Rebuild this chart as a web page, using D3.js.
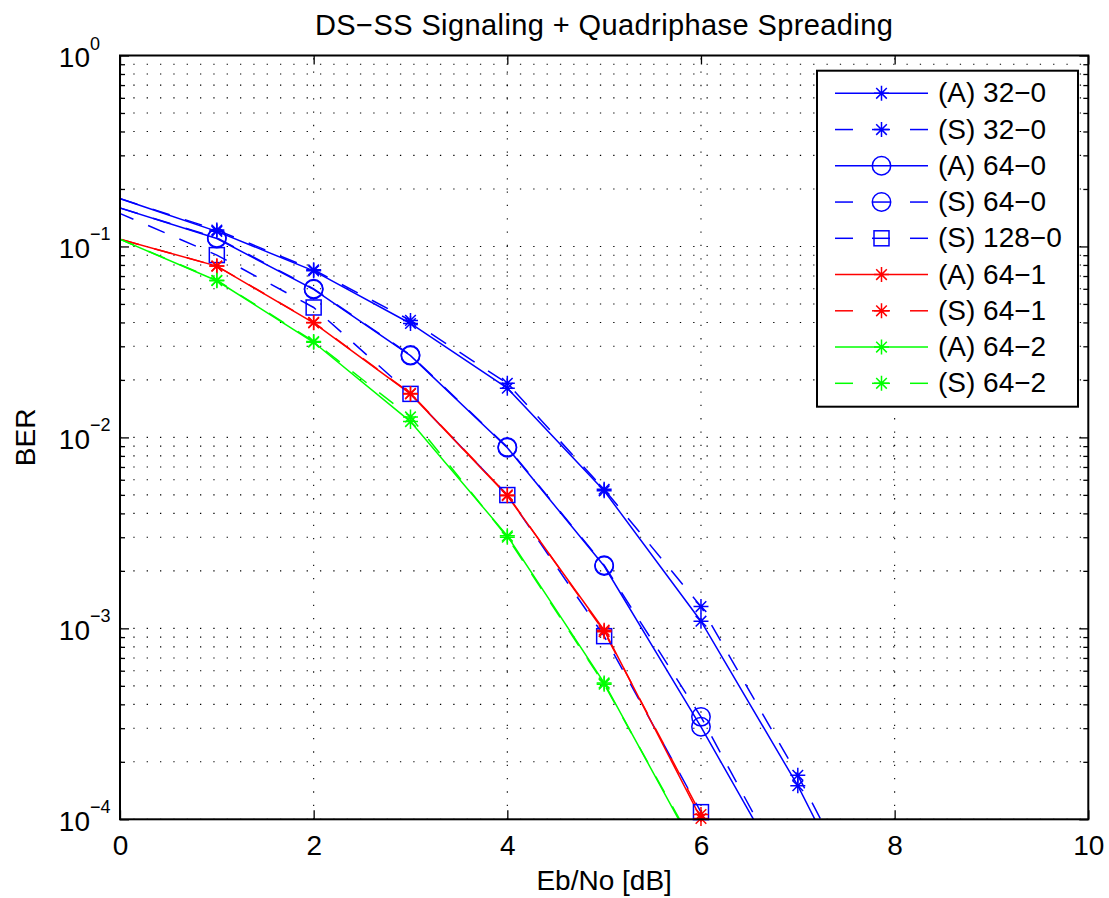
<!DOCTYPE html>
<html>
<head>
<meta charset="utf-8">
<script src="https://cdn.jsdelivr.net/npm/d3@7"></script>
<style>
  body { margin: 0; background: #fff; }
  svg { display: block; font-family: "Liberation Sans", Arial, Helvetica, sans-serif; }
</style>
</head>
<body>
<div id="chart"></div>
<script>
/* BER vs Eb/No — DS-SS signaling with quadriphase spreading */

// ---- Data (the -1 dB point sits outside the axes,
//      so the curves enter at 0 dB without a marker) ----
const ebno = [-1, 1, 2, 3, 4, 5, 6, 7, 8];

const a32_0  = [0.264, 0.120, 0.0745, 0.0395, 0.0181, 0.00525, 0.00109, 0.000150, 0.000015];
const s32_0  = [0.260, 0.122, 0.0755, 0.0410, 0.0192, 0.00535, 0.00130, 0.000170, 0.000018];
const a64_0  = [0.230, 0.110, 0.0596, 0.0268, 0.00883, 0.00212, 0.000305, 0.000039, null];
const s64_0  = [0.228, 0.111, 0.0600, 0.0270, 0.00890, 0.00214, 0.000344, 0.000040, null];
const s128_0 = [0.246, 0.0901, 0.0479, 0.0169, 0.00499, 0.00091, 0.000109, 0.000011, null];
const a64_1  = [0.151, 0.0789, 0.0398, 0.0169, 0.00495, 0.000978, 0.000101, 0.000009, null];
const s64_1  = [0.151, 0.0789, 0.0400, 0.0170, 0.00500, 0.000960, 0.000106, 0.000010, null];
const a64_2  = [0.180, 0.0661, 0.0315, 0.0121, 0.00305, 0.000518, 0.000061, null, null];
const s64_2  = [0.179, 0.0665, 0.0318, 0.0128, 0.00300, 0.000510, 0.000063, null, null];

const seriesNames = ['(A) 32−0', '(S) 32−0', '(A) 64−0', '(S) 64−0', '(S) 128−0',
                     '(A) 64−1', '(S) 64−1', '(A) 64−2', '(S) 64−2'];
const seriesValues = [a32_0, s32_0, a64_0, s64_0, s128_0, a64_1, s64_1, a64_2, s64_2];

const xTicks = [0, 2, 4, 6, 8, 10];
const yDecades = [1e-4, 1e-3, 1e-2, 1e-1, 1];
const yExponents = ['−4', '−3', '−2', '−1', '0'];

// ---- Styles per series ----
const BLUE = '#0000ff', RED = '#ff0000', GREEN = '#00ff00';
const styles = [
  { color: BLUE,  dashed: false, marker: 'star' },
  { color: BLUE,  dashed: true,  marker: 'star' },
  { color: BLUE,  dashed: false, marker: 'circle' },
  { color: BLUE,  dashed: true,  marker: 'circle' },
  { color: BLUE,  dashed: true,  marker: 'square' },
  { color: RED,   dashed: false, marker: 'star' },
  { color: RED,   dashed: true,  marker: 'star' },
  { color: GREEN, dashed: false, marker: 'star' },
  { color: GREEN, dashed: true,  marker: 'star' }
];
const series = seriesNames.map((name, i) => ({
  name,
  ...styles[i],
  points: ebno.map((e, j) => [e, seriesValues[i][j]])
}));

// ---- Layout ----
const width = 1109, height = 898;
const L = 120, R = 1088.3, T = 55.5, B = 819.3;
const FONT = 28;

const svg = d3.select('#chart').append('svg')
  .attr('width', width).attr('height', height);
svg.append('rect').attr('width', width).attr('height', height).attr('fill', '#fff');

const x = d3.scaleLinear().domain([0, 10]).range([L, R]);
const y = d3.scaleLog().domain([1e-4, 1]).range([B, T]);

// ---- Grid (dotted, MATLAB style) ----
const grid = svg.append('g')
  .attr('stroke', '#000').attr('stroke-width', 1.1)
  .attr('stroke-dasharray', '1.3,12.03').attr('fill', 'none');

grid.selectAll('line.h').data(y.ticks()).join('line')
  .attr('class', 'h')
  .attr('x1', L).attr('x2', R)
  .attr('y1', d => y(d)).attr('y2', d => y(d));

grid.selectAll('line.v').data(xTicks.slice(1, -1)).join('line')
  .attr('class', 'v')
  .attr('x1', d => x(d)).attr('x2', d => x(d))
  .attr('y1', B).attr('y2', T);

// ---- Axes (ticks inside) ----
function styleAxis(g) {
  g.attr('font-family', null).attr('font-size', null);
  g.select('.domain').remove();
  g.selectAll('.tick line').attr('stroke', '#000').attr('stroke-width', 1.3);
}

svg.append('g')
  .attr('transform', `translate(0,${B})`)
  .call(d3.axisBottom(x).tickValues(xTicks).tickSize(-9).tickPadding(16).tickFormat(d3.format('d')))
  .call(styleAxis)
  .call(g => g.selectAll('.tick text').attr('font-size', FONT).attr('fill', '#000'));

svg.append('g')
  .attr('transform', `translate(0,${T})`)
  .call(d3.axisTop(x).tickValues(xTicks).tickSize(-9).tickFormat(''))
  .call(styleAxis);

const minorTicks = y.ticks().filter(d => !yDecades.some(v => Math.abs(v - d) < d * 1e-6));

svg.append('g')
  .attr('transform', `translate(${L},0)`)
  .call(d3.axisLeft(y).tickValues(minorTicks).tickSize(-5).tickFormat(''))
  .call(styleAxis);

svg.append('g')
  .attr('transform', `translate(${R},0)`)
  .call(d3.axisRight(y).tickValues(minorTicks).tickSize(-5).tickFormat(''))
  .call(styleAxis);

svg.append('g')
  .attr('transform', `translate(${R},0)`)
  .call(d3.axisRight(y).tickValues(yDecades).tickSize(-9).tickFormat(''))
  .call(styleAxis);

const yAxis = svg.append('g')
  .attr('transform', `translate(${L},0)`)
  .call(d3.axisLeft(y).tickValues(yDecades).tickSize(-9).tickFormat(''))
  .call(styleAxis);

// decade labels: "10" right-aligned, exponent to its right
yAxis.selectAll('.tick').each(function (d) {
  const t = d3.select(this);
  t.append('text')
    .attr('x', -30).attr('y', 11)
    .attr('text-anchor', 'end')
    .attr('font-size', FONT)
    .attr('fill', '#000')
    .text('10');
  t.append('text')
    .attr('x', -30).attr('y', -6.5)
    .attr('text-anchor', 'start')
    .attr('font-size', 18)
    .attr('fill', '#000')
    .text(yExponents[yDecades.indexOf(d)]);
});

// ---- Clipped data lines ----
svg.append('clipPath').attr('id', 'plotClip')
  .append('rect').attr('x', L).attr('y', T).attr('width', R - L).attr('height', B - T);

const line = d3.line()
  .defined(d => d[1] != null)
  .x(d => x(d[0]))
  .y(d => y(d[1]));

const DASH = '18,16';

const plot = svg.append('g');
const linesG = plot.append('g').attr('clip-path', 'url(#plotClip)');

function drawMarker(g, type, color) {
  if (type === 'star') {
    g.append('path')
      .attr('d', 'M0,-7.5V7.5M-7.5,0H7.5M-5.3,-5.3L5.3,5.3M-5.3,5.3L5.3,-5.3')
      .attr('stroke', color).attr('stroke-width', 1.5).attr('fill', 'none');
  } else if (type === 'circle') {
    g.append('circle').attr('r', 9.2)
      .attr('stroke', color).attr('stroke-width', 1.5).attr('fill', 'none');
  } else {
    g.append('rect').attr('x', -7.5).attr('y', -7.5).attr('width', 15).attr('height', 15)
      .attr('stroke', color).attr('stroke-width', 1.5).attr('fill', 'none');
  }
}

series.forEach(s => {
  linesG.append('path')
    .datum(s.points)
    .attr('d', line)
    .attr('fill', 'none')
    .attr('stroke', s.color)
    .attr('stroke-width', 1.5)
    .attr('stroke-dasharray', s.dashed ? DASH : null);

  // markers only where the data point lies inside the axes
  s.points
    .filter(p => p[1] != null && p[0] >= 0 && p[1] >= 9.9e-5 && p[1] <= 1)
    .forEach(p => {
      const m = plot.append('g').attr('transform', `translate(${x(p[0])},${y(p[1])})`);
      drawMarker(m, s.marker, s.color);
    });
});

// ---- Axes box ----
svg.append('rect')
  .attr('x', L).attr('y', T).attr('width', R - L).attr('height', B - T)
  .attr('fill', 'none').attr('stroke', '#000').attr('stroke-width', 2);

// ---- Labels ----
svg.append('text')
  .attr('x', (L + R) / 2).attr('y', 35)
  .attr('text-anchor', 'middle')
  .attr('font-size', 29)
  .attr('letter-spacing', 0.4)
  .text('DS−SS Signaling + Quadriphase Spreading');

svg.append('text')
  .attr('x', (L + R) / 2).attr('y', 890)
  .attr('text-anchor', 'middle')
  .attr('font-size', FONT)
  .text('Eb/No [dB]');

svg.append('text')
  .attr('transform', `translate(35,${(T + B) / 2}) rotate(-90)`)
  .attr('text-anchor', 'middle')
  .attr('font-size', FONT)
  .text('BER');

// ---- Legend ----
const lg = svg.append('g').attr('transform', 'translate(817,70.7)');
lg.append('rect')
  .attr('width', 261).attr('height', 336)
  .attr('fill', '#fff').attr('stroke', '#000').attr('stroke-width', 2);

const rowY = d3.scalePoint().domain(seriesNames).range([22.6, 312.6]);

series.forEach(s => {
  const row = lg.append('g').attr('transform', `translate(0,${rowY(s.name)})`);
  if (s.dashed) {
    [[18, 36], [55, 73], [93, 111]].forEach(([a, b]) => {
      row.append('line').attr('x1', a).attr('x2', b)
        .attr('stroke', s.color).attr('stroke-width', 1.5);
    });
  } else {
    row.append('line').attr('x1', 18).attr('x2', 111)
      .attr('stroke', s.color).attr('stroke-width', 1.5);
  }
  const m = row.append('g').attr('transform', 'translate(64.5,0)');
  drawMarker(m, s.marker, s.color);
  row.append('text')
    .attr('x', 121).attr('y', 9)
    .attr('font-size', FONT)
    .text(s.name);
});
</script>
</body>
</html>
